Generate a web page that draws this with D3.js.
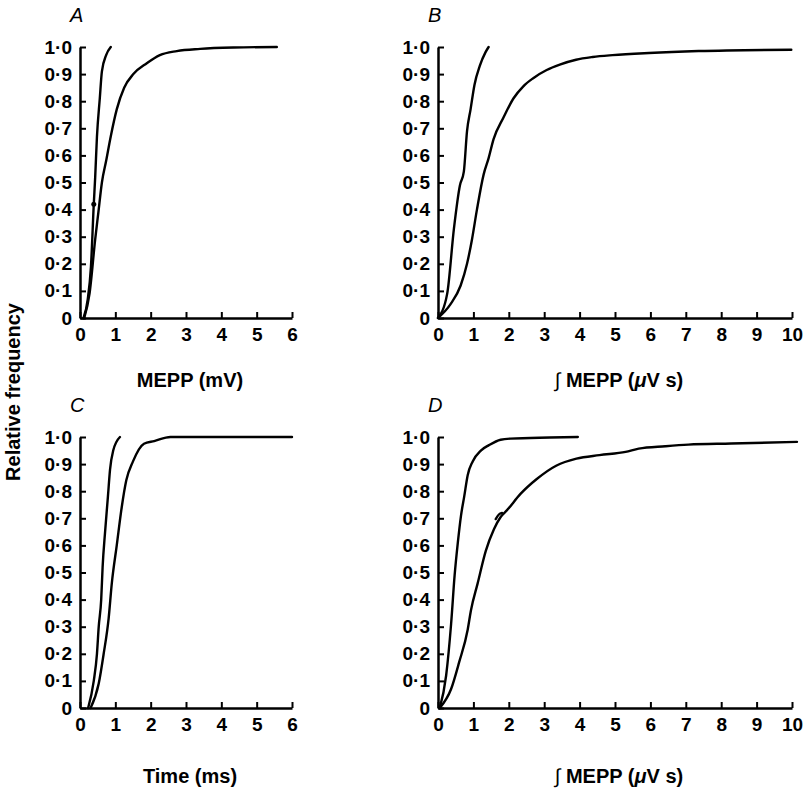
<!DOCTYPE html>
<html>
<head>
<meta charset="utf-8">
<script src="https://cdnjs.cloudflare.com/ajax/libs/d3/7.8.5/d3.min.js"></script>
<style>
body { margin: 0; background: #fff; }
svg text { font-family: "Liberation Sans", Arial, sans-serif; font-weight: bold; fill: #000; }
</style>
</head>
<body>
<svg id="fig" width="810" height="795"></svg>
<script>
// cumulative distributions, [x, relative frequency]
var aFast = [[0.1,0],[0.22,0.07],[0.31,0.19],[0.39,0.42],[0.43,0.52],[0.48,0.67],[0.56,0.81],[0.62,0.91],[0.74,0.97],[0.87,1.0]];
var aSlow = [[0.12,0],[0.27,0.09],[0.43,0.29],[0.52,0.39],[0.62,0.5],[0.74,0.58],[0.87,0.67],[1.04,0.77],[1.25,0.85],[1.51,0.9],[1.89,0.94],[2.26,0.97],[2.74,0.985],[3.4,0.993],[4.35,0.998],[5.57,1.0]];
var aMark = [[0.39,0.42]];

var bFast = [[0,0],[0.26,0.09],[0.45,0.33],[0.62,0.49],[0.73,0.54],[0.82,0.69],[0.92,0.77],[1.03,0.86],[1.18,0.93],[1.34,0.98],[1.43,1.0]];
var bSlow = [[0,0],[0.35,0.05],[0.64,0.12],[0.82,0.2],[0.96,0.29],[1.1,0.4],[1.29,0.53],[1.43,0.59],[1.57,0.66],[1.85,0.74],[2.13,0.81],[2.41,0.855],[2.69,0.885],[3.07,0.915],[3.44,0.935],[3.9,0.953],[4.37,0.963],[4.93,0.97],[5.96,0.978],[7.36,0.985],[9.98,0.99]];

var cFast = [[0.23,0],[0.39,0.1],[0.48,0.2],[0.53,0.3],[0.6,0.4],[0.64,0.52],[0.71,0.65],[0.79,0.78],[0.85,0.88],[0.94,0.95],[1.13,1.0]];
var cSlow = [[0.3,0],[0.53,0.09],[0.67,0.2],[0.81,0.33],[0.9,0.46],[1.04,0.6],[1.18,0.74],[1.31,0.84],[1.5,0.91],[1.81,0.975],[2.1,0.985],[2.56,1.0],[6.0,1.0]];

var dFast = [[0.05,0],[0.23,0.12],[0.37,0.31],[0.47,0.49],[0.56,0.61],[0.65,0.71],[0.74,0.78],[0.84,0.86],[0.98,0.91],[1.21,0.95],[1.44,0.97],[1.77,0.99],[2.05,0.994],[3.16,0.998],[3.95,1.0]];
var dSlow = [[0.05,0],[0.37,0.07],[0.6,0.17],[0.84,0.29],[0.93,0.36],[1.12,0.46],[1.35,0.58],[1.58,0.66],[1.77,0.705],[1.95,0.73],[2.33,0.79],[2.79,0.845],[3.35,0.895],[3.91,0.92],[4.56,0.933],[5.3,0.945],[5.67,0.957],[6.42,0.966],[7.07,0.972],[8.28,0.976],[10.14,0.982]];
var dHook = [[1.63,0.697],[1.72,0.714],[1.81,0.72]];

var yTicks = [0,0.1,0.2,0.3,0.4,0.5,0.6,0.7,0.8,0.9,1.0];
var xTicksShort = [0,1,2,3,4,5,6];
var xTicksLong = [0,1,2,3,4,5,6,7,8,9,10];

var svg = d3.select("#fig");

function drawPanel(p) {
    var x = d3.scaleLinear().domain([0, p.xmax]).range([p.left, p.right]);
    var y = d3.scaleLinear().domain([0, 1]).range([p.bottom, p.top]);
    var g = svg.append("g");

    var xAxis = g.append("g")
        .attr("transform", "translate(0," + p.bottom + ")")
        .call(d3.axisBottom(x).tickValues(p.xTicks).tickSize(-6).tickSizeOuter(0).tickPadding(10)
            .tickFormat(d3.format("d")));
    var yAxis = g.append("g")
        .attr("transform", "translate(" + p.left + ",0)")
        .call(d3.axisLeft(y).tickValues(yTicks).tickSize(-6).tickSizeOuter(0).tickPadding(8)
            .tickFormat(function(d) { return d === 0 ? "0" : d.toFixed(1).replace(".", "\u00b7"); }));

    [xAxis, yAxis].forEach(function(a) {
        a.select(".domain").attr("stroke", "#000").attr("stroke-width", 2.5);
        a.selectAll(".tick line").attr("stroke", "#000").attr("stroke-width", 2);
        a.selectAll(".tick text").style("font-size", "19px").attr("fill", "#000");
    });

    var line = d3.line()
        .curve(d3.curveMonotoneX)
        .x(function(d) { return x(d[0]); })
        .y(function(d) { return y(d[1]); });

    p.series.forEach(function(s) {
        g.append("path")
            .datum(s)
            .attr("d", line)
            .attr("fill", "none")
            .attr("stroke", "#000")
            .attr("stroke-width", 2.4)
            .attr("stroke-linejoin", "round")
            .attr("stroke-linecap", "round");
    });

    if (p.marks) {
        g.selectAll("circle.mark")
            .data(p.marks)
            .enter()
            .append("circle")
            .attr("cx", function(d) { return x(d[0]); })
            .attr("cy", function(d) { return y(d[1]); })
            .attr("r", 2.5)
            .attr("fill", "#000");
    }

    g.append("text")
        .attr("x", p.left - 10)
        .attr("y", p.top - 25)
        .style("font-size", "20px")
        .style("font-style", "italic")
        .style("font-weight", "normal")
        .text(p.letter);

    var t = g.append("text")
        .attr("x", (p.left + p.right) / 2 + 4)
        .attr("y", p.bottom + p.titleGap)
        .attr("text-anchor", "middle")
        .style("font-size", "20px");
    if (p.integral) {
        t.append("tspan").style("font-weight", "normal").text("\u222b ");
        t.append("tspan").text("MEPP (");
        t.append("tspan").style("font-style", "italic").text("\u03bc");
        t.append("tspan").text("V s)");
    } else {
        t.text(p.title);
    }
}

drawPanel({ letter: "A", left: 80, right: 292, top: 47, bottom: 318, xmax: 6, xTicks: xTicksShort,
    series: [aFast, aSlow], marks: aMark, title: "MEPP (mV)", titleGap: 69 });
drawPanel({ letter: "B", left: 438, right: 792, top: 47, bottom: 318, xmax: 10, xTicks: xTicksLong,
    series: [bFast, bSlow], integral: true, titleGap: 69 });
drawPanel({ letter: "C", left: 80, right: 292, top: 437, bottom: 708, xmax: 6, xTicks: xTicksShort,
    series: [cFast, cSlow], title: "Time (ms)", titleGap: 75 });
drawPanel({ letter: "D", left: 438, right: 792, top: 437, bottom: 708, xmax: 10, xTicks: xTicksLong,
    series: [dFast, dSlow, dHook], integral: true, titleGap: 75 });

svg.append("text")
    .attr("transform", "translate(20,392) rotate(-90)")
    .attr("text-anchor", "middle")
    .style("font-size", "20px")
    .text("Relative frequency");
</script>
</body>
</html>
